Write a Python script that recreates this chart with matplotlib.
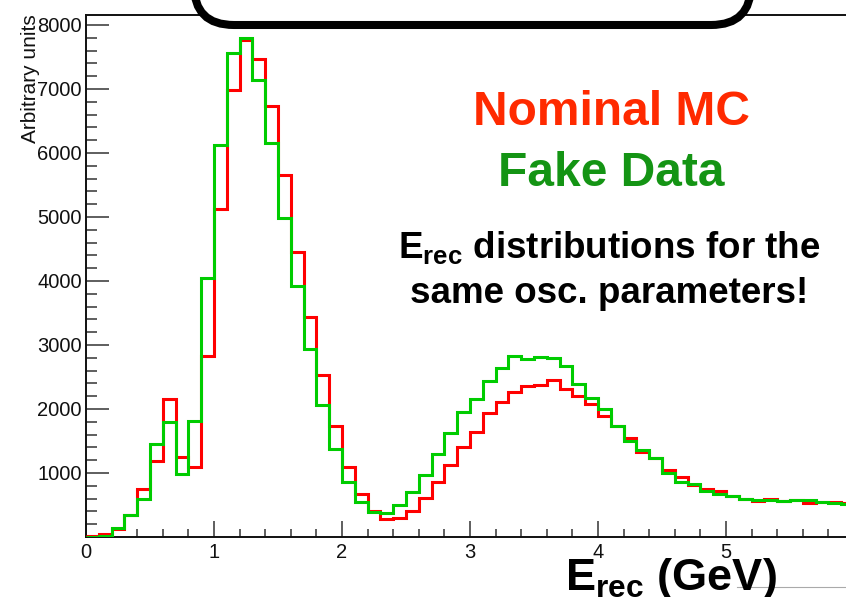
import numpy as np
import matplotlib
matplotlib.use("Agg")
import matplotlib.pyplot as plt
from matplotlib.patches import FancyBboxPatch
from matplotlib.lines import Line2D
from matplotlib.transforms import IdentityTransform

plt.rcParams['font.family'] = ['Liberation Sans', 'DejaVu Sans']
plt.rcParams['mathtext.fontset'] = 'custom'
plt.rcParams['mathtext.rm'] = 'Liberation Sans:bold'
plt.rcParams['mathtext.bf'] = 'Liberation Sans:bold'
plt.rcParams['mathtext.it'] = 'Liberation Sans:bold'

# Reconstructed energy binning (GeV)
bin_edges = np.round(np.arange(0.0, 6.0001, 0.1), 3)

nominal_mc = [10, 40, 120, 340, 750, 1180, 2160, 1250, 1100, 2830,
              5120, 6990, 7760, 7470, 6730, 5660, 4460, 3430, 2530, 1730,
              1100, 670, 400, 280, 300, 410, 615, 855, 1130, 1410,
              1645, 1930, 2110, 2270, 2360, 2375, 2450, 2310, 2210, 2075,
              1895, 1735, 1550, 1325, 1230, 1040, 930, 805, 755, 715,
              640, 600, 570, 595, 565, 585, 535, 545, 545, 535]

fake_data = [0, 20, 140, 345, 600, 1460, 1795, 980, 1805, 4040,
             6125, 7570, 7790, 7140, 6160, 4990, 3920, 2935, 2070, 1375,
             855, 545, 385, 380, 500, 705, 970, 1290, 1625, 1950,
             2155, 2440, 2635, 2830, 2780, 2815, 2795, 2665, 2390, 2165,
             2000, 1735, 1495, 1355, 1230, 1000, 855, 835, 725, 670,
             640, 600, 585, 575, 565, 585, 575, 545, 525, 510]

x_major = [0, 1, 2, 3, 4, 5]
y_major = [1000, 2000, 3000, 4000, 5000, 6000, 7000, 8000]

W, H = 846, 597
fig = plt.figure(figsize=(W / 100, H / 100), dpi=100)
fig.patch.set_facecolor('white')

def fx(px):
    return px / W

def fy(py):
    return 1 - py / H

ax_left, ax_right, ax_top, ax_bottom = 86, 846, 15, 537
ax = fig.add_axes([fx(ax_left), fy(ax_bottom), fx(ax_right - ax_left), (ax_bottom - ax_top) / H])

ax.stairs(nominal_mc, bin_edges, baseline=None, color='#ff0000', linewidth=2.2, zorder=3)
ax.stairs(fake_data, bin_edges, baseline=None, color='#00cc00', linewidth=2.2, zorder=4)

ax.set_xlim(0, (ax_right - ax_left) / 128.0)
ax.set_ylim(0, (ax_bottom - ax_top) / 64.0 * 1000)

ax.set_xticks(x_major)
ax.set_xticks(np.arange(0.2, 6.0, 0.2), minor=True)
ax.set_yticks(y_major)
ax.set_yticks(np.arange(200, 8200, 200), minor=True)

ax.tick_params(axis='both', which='both', direction='in', colors='#333333',
               labelcolor='#111111', width=1.1, labelsize=14.5)
ax.tick_params(axis='y', which='major', length=16.5, pad=3)
ax.tick_params(axis='y', which='minor', length=8)
ax.tick_params(axis='x', which='major', length=11.5, pad=4)
ax.tick_params(axis='x', which='minor', length=5.8)

for side in ['left', 'bottom', 'top']:
    ax.spines[side].set_linewidth(1.4)
    ax.spines[side].set_color('#111111')
ax.spines['right'].set_visible(False)

# Y-axis title, aligned with the top of the frame
fig.text(fx(31), fy(14), 'Arbitrary units', rotation=90, ha='center', va='top',
         fontsize=15, color='#111111')

# Rounded title box at the top of the slide
box = FancyBboxPatch((194, H - 29 + 4), 751 - 194, 200,
                     boxstyle='round,pad=0,rounding_size=40',
                     linewidth=5.8, edgecolor='black', facecolor='white',
                     transform=IdentityTransform(), zorder=5)
fig.patches.append(box)

# Annotations
fig.text(fx(611), fy(125), 'Nominal MC', color='#ff2a00', fontsize=34.5,
         fontweight='bold', ha='center', va='baseline')
fig.text(fx(611), fy(186), 'Fake Data', color='#149414', fontsize=34.5,
         fontweight='bold', ha='center', va='baseline')
fig.text(fx(609), fy(258), r'$\mathbf{E}_{\mathbf{rec}}$ distributions for the',
         color='black', fontsize=26.5, fontweight='bold', ha='center', va='baseline')
fig.text(fx(609), fy(303), 'same osc. parameters!', color='black', fontsize=26.5,
         fontweight='bold', ha='center', va='baseline')

# Thin rule near the bottom-right corner
fig.add_artist(Line2D([fx(737), fx(846)], [fy(587), fy(587)], color='#aaaaaa',
                      linewidth=0.8, zorder=1))

# X-axis title
fig.text(fx(565), fy(590), r'$\mathbf{E}_{\mathbf{rec}}$ (GeV)', color='black',
         fontsize=32.5, fontweight='bold', ha='left', va='baseline', zorder=6)

fig.savefig('out.png', dpi=100, facecolor='white')
